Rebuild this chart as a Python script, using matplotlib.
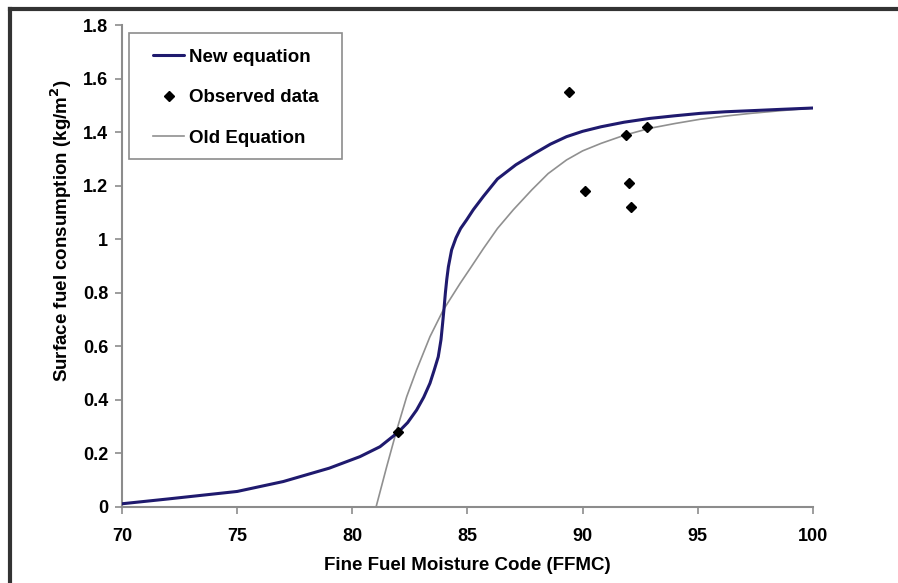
import matplotlib.pyplot as plt
from matplotlib.lines import Line2D
from matplotlib.patches import Rectangle

plt.rcParams['font.family'] = ['Liberation Sans', 'DejaVu Sans']
plt.rcParams['font.weight'] = 'bold'

# values
new_x = [70, 72, 75, 77, 79, 80.33, 81.2, 82.0, 82.4, 82.79, 83.1, 83.37,
         83.55, 83.73, 83.85, 83.92, 83.98, 84.04, 84.1, 84.17, 84.31, 84.5,
         84.7, 84.96, 85.25, 85.69, 86.3, 87.1, 87.9, 88.6, 89.3, 90.0, 90.8,
         91.8, 92.9, 94.0, 95.1, 96.2, 97.3, 98.6, 100]
new_y = [0.012, 0.03, 0.058, 0.095, 0.145, 0.188, 0.225, 0.28, 0.315, 0.362,
         0.41, 0.462, 0.51, 0.561, 0.625, 0.686, 0.74, 0.8, 0.85, 0.897, 0.96,
         1.005, 1.04, 1.072, 1.11, 1.16, 1.225, 1.278, 1.32, 1.355, 1.383,
         1.403, 1.42, 1.437, 1.451, 1.461, 1.47, 1.476, 1.48, 1.485, 1.49]

old_x = [81.03, 81.49, 81.93, 82.36, 82.79, 83.37, 83.95, 84.68, 85.11, 85.69,
         86.3, 86.99, 87.8, 88.5, 89.3, 90.0, 90.8, 91.8, 92.9, 94.0, 95.1,
         96.2, 97.3, 98.6, 100]
old_y = [0.0, 0.15, 0.288, 0.412, 0.512, 0.636, 0.736, 0.835, 0.89, 0.965,
         1.04, 1.11, 1.185, 1.245, 1.296, 1.33, 1.358, 1.388, 1.414, 1.432,
         1.448, 1.46, 1.47, 1.48, 1.49]

obs_x = [82.0, 89.4, 90.1, 91.9, 92.0, 92.1, 92.8]
obs_y = [0.28, 1.55, 1.18, 1.39, 1.21, 1.12, 1.42]

x_ticks = [70, 75, 80, 85, 90, 95, 100]
y_ticks = [0, 0.2, 0.4, 0.6, 0.8, 1, 1.2, 1.4, 1.6, 1.8]
y_labels = ["0", "0.2", "0.4", "0.6", "0.8", "1", "1.2", "1.4", "1.6", "1.8"]

fig = plt.figure(figsize=(8.98, 5.83), dpi=100)
ax = fig.add_axes([0.1359, 0.1304, 0.7694, 0.8267])

# outer frame (only top and left edges are visible in the crop)
fig.add_artist(Line2D([10 / 898, 1], [1 - 9 / 583, 1 - 9 / 583],
                      transform=fig.transFigure, color="#333333", lw=3))
fig.add_artist(Line2D([10 / 898, 10 / 898], [0, 1 - 9 / 583],
                      transform=fig.transFigure, color="#333333", lw=3))

ax.plot(new_x, new_y, color="#1f1a6e", lw=2.2, label="New equation",
        solid_capstyle="round", solid_joinstyle="round", zorder=3)
ax.plot(obs_x, obs_y, linestyle="none", marker="D", ms=5.5, color="black",
        label="Observed data", zorder=4)
ax.plot(old_x, old_y, color="#909090", lw=1.2, label="Old Equation", zorder=2)

ax.set_xlim(70, 100)
ax.set_ylim(0, 1.8)
ax.set_xticks(x_ticks)
ax.set_yticks(y_ticks)
ax.set_yticklabels(y_labels)

for side in ["top", "right"]:
    ax.spines[side].set_visible(False)
for side in ["left", "bottom"]:
    ax.spines[side].set_color("#8c8c8c")
    ax.spines[side].set_linewidth(1.5)
ax.tick_params(axis="both", direction="out", length=5, width=1.2,
               color="#8c8c8c", labelsize=13, pad=5)
ax.tick_params(axis="x", pad=10)

ax.set_xlabel("Fine Fuel Moisture Code (FFMC)", fontsize=13.5, fontweight="bold")
ax.xaxis.set_label_coords(0.5, -0.104)
ax.set_ylabel("Surface fuel consumption (kg/m$^\\mathbf{2}$)", fontsize=13.5,
              fontweight="bold")
ax.yaxis.set_label_coords(-0.069, 0.573)

# legend box drawn by hand so its padding matches the reference
ax.add_patch(Rectangle((0.0101, 0.722), 0.308, 0.261, transform=ax.transAxes,
                       facecolor="white", edgecolor="#8c8c8c", lw=1.2,
                       clip_on=False, zorder=5))
leg = ax.legend(loc="upper left", bbox_to_anchor=(0.0449, 0.951), borderaxespad=0,
                frameon=False, fontsize=13.5, labelspacing=1.25,
                handlelength=1.65, borderpad=0, handletextpad=0.25)
leg.set_zorder(6)

fig.savefig("out.png", dpi=100)
